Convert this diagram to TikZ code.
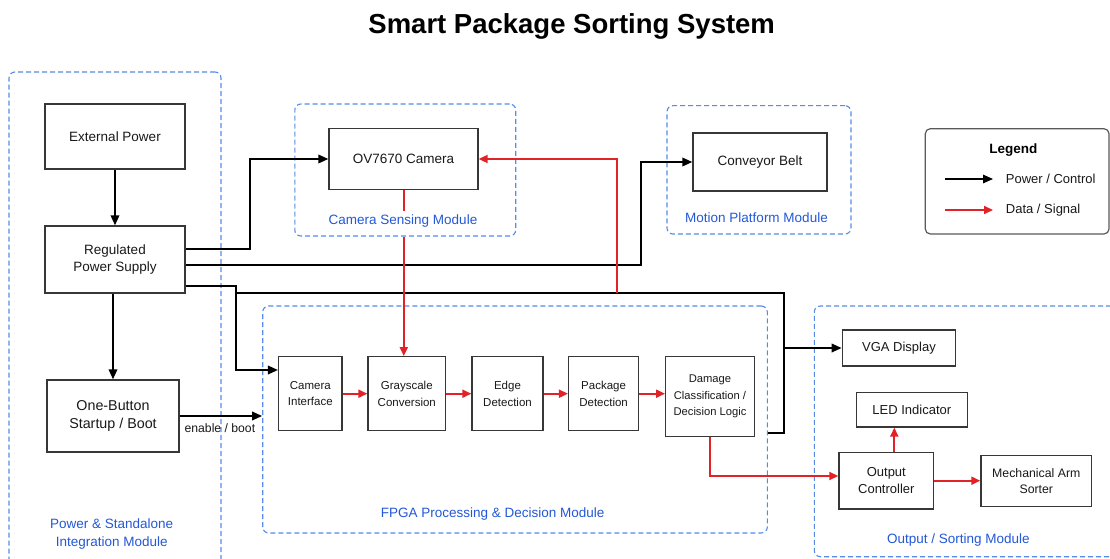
\documentclass[tikz,border=0pt]{standalone}
\usepackage{fontspec}
\setmainfont{Liberation Sans}
\usetikzlibrary{arrows.meta,calc}
\definecolor{modblue}{RGB}{85,140,232}
\definecolor{labblue}{RGB}{35,88,215}
\definecolor{sigred}{RGB}{225,35,40}
\definecolor{boxline}{RGB}{55,55,55}
\definecolor{legline}{RGB}{90,90,90}
\begin{document}
\begin{tikzpicture}[x=1pt,y=-1pt,
 box/.style={draw=boxline, line width=1.3pt, fill=white, align=center, inner sep=0pt, text=black!90, font=\fontsize{13.5}{17}\selectfont},
 fbox/.style={box, font=\fontsize{11.5}{16.5}\selectfont},
 obox/.style={box, font=\fontsize{13}{16.5}\selectfont},
 module/.style={draw=modblue, dash pattern=on 5pt off 3pt, line width=1.1pt, rounded corners=6pt, inner sep=0pt},
 modlabel/.style={text=labblue, font=\fontsize{13.5}{18}\selectfont, align=center},
 pw/.style={draw=black, line width=1.8pt, -{Triangle[length=10pt,width=8.5pt]}},
 pwl/.style={draw=black, line width=1.8pt},
 sig/.style={draw=sigred, line width=1.8pt, -{Triangle[length=9pt,width=8pt]}},
 sigl/.style={draw=sigred, line width=1.8pt},
]
\useasboundingbox (0,0) rectangle (1110,559);
\clip (0,0) rectangle (1110,559);
\fill[white] (0,0) rectangle (1110,559);

% title
\node[font=\fontsize{27.5}{32}\selectfont\bfseries] (title) at (571.7,26) {Smart Package Sorting System};

% modules
\node[module, minimum width=212pt, minimum height=503pt] (pwrm) at (115,323.5) {};
\node[module, minimum width=220.9pt, minimum height=132pt] (camm) at (405.25,170) {};
\node[module, minimum width=184pt, minimum height=128.3pt] (motm) at (759,169.85) {};
\node[module, minimum width=504.6pt, minimum height=227pt] (fpga) at (515,419.5) {};
\node[module, minimum width=310.7pt, minimum height=250.7pt] (outm) at (969.65,431.35) {};

% module labels
\node[modlabel] (pwrl) at (111.7,534) {Power \& Standalone\\Integration Module};
\node[modlabel, inner sep=4pt] (caml) at (403,221) {Camera Sensing Module};
\node[modlabel] (motl) at (756.5,218) {Motion Platform Module};
\node[modlabel] (fpgal) at (492.6,514) {FPGA Processing \& Decision Module};
\node[modlabel] (outl) at (958.3,540) {Output / Sorting Module};

% legend
\node[draw=legline, line width=1.2pt, rounded corners=5pt, minimum width=183.7pt, minimum height=105.3pt] (legend) at (1017.15,181.35) {};
\node[font=\fontsize{13.5}{16}\selectfont\bfseries] (legt) at (1013.3,150) {Legend};
\coordinate (la1) at (945,179);
\coordinate (la2) at (993,179);
\coordinate (lb1) at (945,210);
\coordinate (lb2) at (993,210);
\draw[pw, line width=1.6pt] (la1) -- (la2);
\draw[sig, line width=1.6pt] (lb1) -- (lb2);
\node[anchor=west, font=\fontsize{13}{16}\selectfont, text=black!90, inner sep=0pt] (lta) at (1005.7,179.3) {Power / Control};
\node[anchor=west, font=\fontsize{13}{16}\selectfont, text=black!90, inner sep=0pt] (ltb) at (1005.7,210) {Data / Signal};

% boxes
\node[box, minimum width=140pt, minimum height=65pt] (ext) at (115,136.5) {External Power};
\node[box, minimum width=140pt, minimum height=67pt] (reg) at (115,259.5) {Regulated\\Power Supply};
\node[box, minimum width=132pt, minimum height=72pt, font=\fontsize{14.3}{18}\selectfont] (boot) at (113,416) {One-Button\\Startup / Boot};
\node[box, minimum width=149pt, minimum height=61pt] (cam) at (403.5,159) {OV7670 Camera};
\node[box, minimum width=134pt, minimum height=58pt] (conv) at (760,162) {Conveyor Belt};

\node[fbox, minimum width=63.4pt, minimum height=74pt] (ci) at (310.3,393.7) {Camera\\Interface};
\node[fbox, minimum width=77.6pt, minimum height=74pt] (gray) at (406.8,393.7) {Grayscale\\Conversion};
\node[fbox, minimum width=71pt, minimum height=74pt] (edge) at (507.5,393.7) {Edge\\Detection};
\node[fbox, minimum width=70pt, minimum height=74pt] (pkg) at (603.6,393.7) {Package\\Detection};
\node[fbox, minimum width=88.6pt, minimum height=80pt, font=\fontsize{11.2}{16.5}\selectfont] (dmg) at (710,396.7) {Damage\\Classification /\\Decision Logic};

\node[obox, minimum width=113.4pt, minimum height=36pt] (vga) at (899,348) {VGA Display};
\node[obox, minimum width=111pt, minimum height=34.3pt] (led) at (911.8,409.8) {LED Indicator};
\node[obox, minimum width=94.7pt, minimum height=56.7pt] (oc) at (886.3,480.7) {Output\\Controller};
\node[obox, minimum width=110.7pt, minimum height=51pt, font=\fontsize{12.3}{16.5}\selectfont] (arm) at (1036.3,481.2) {Mechanical Arm\\Sorter};

% power / control connectors
\draw[pw] (ext.south) -- (reg.north);
\draw[pw] (reg.south -| boot.north) -- (boot.north);
\draw[pw] ([yshift=10.5pt]reg.east) -- ++(64,0) |- (cam.west);
\draw[pw] ([yshift=-5.5pt]reg.east) -- ++(455.7,0) |- (conv.west);
\draw[pw] ([yshift=-26.2pt]reg.east) -- ++(50.7,0) |- ([yshift=23.7pt]ci.west);
\coordinate (j1) at (235.7,293.3);
\coordinate (j2) at (784,293.3);
\coordinate (j3) at (784,432.7);
\draw[pwl] (j1) -- (j2) -- (j3) -- (j3 -| fpga.east);
\draw[pw] (vga.west -| j2) -- (vga.west);
\draw[pw] (boot.east) -- (boot.east -| fpga.west) node[pos=0.5, below=3pt, font=\fontsize{12.2}{15}\selectfont, text=black!90, xshift=-1pt] (eb) {enable / boot};

% data / signal connectors
\coordinate (rs) at (617,293);
\draw[sig] (rs) -- (rs |- cam.east) -- (cam.east);
\draw[sigl] ([xshift=0.3pt]cam.south) -- ([xshift=0.3pt]cam.south |- caml.north);
\draw[sig] ([xshift=0.3pt]cam.south |- camm.south) -- ([xshift=0.3pt]cam.south |- gray.north);
\draw[sig] (ci.east) -- (ci.east -| gray.west);
\draw[sig] (gray.east) -- (gray.east -| edge.west);
\draw[sig] (edge.east) -- (edge.east -| pkg.west);
\draw[sig] (pkg.east) -- (pkg.east -| dmg.west);
\draw[sig] (dmg.south) |- ([yshift=4.7pt]oc.west);
\draw[sig] ([xshift=8pt]oc.north) -- ([xshift=8pt]oc.north |- led.south);
\draw[sig] (oc.east) -- (oc.east -| arm.west);
\end{tikzpicture}
\end{document}
